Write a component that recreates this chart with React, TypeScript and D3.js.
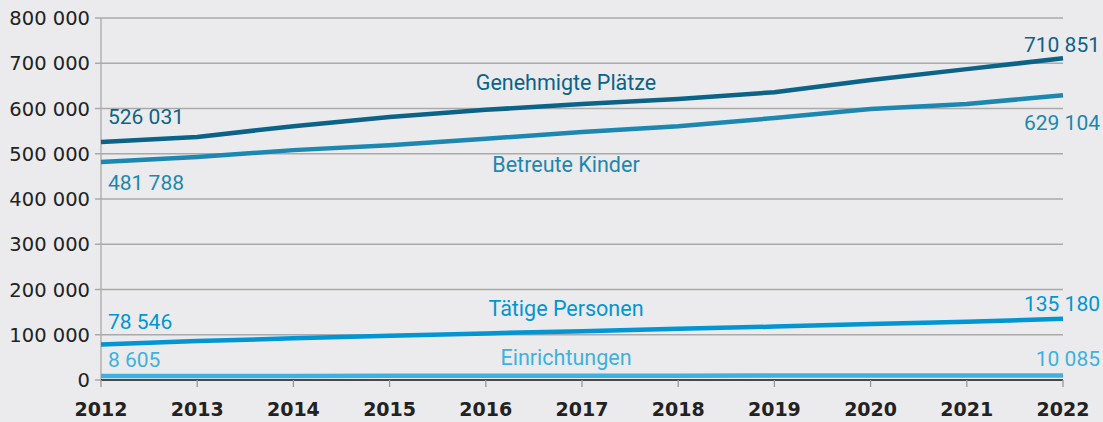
import React from "react";
import * as d3 from "d3";

const years = [2012, 2013, 2014, 2015, 2016, 2017, 2018, 2019, 2020, 2021, 2022];
const plaetze = [526031, 537000, 561000, 581000, 597000, 610000, 621000, 636000, 663000, 687000, 710851];
const kinder = [481788, 493000, 508000, 519000, 533000, 548000, 561000, 579000, 599000, 610000, 629104];
const personen = [78546, 86000, 92000, 98000, 103000, 108000, 113000, 118000, 124000, 129000, 135180];
const einrichtungen = [8605, 8800, 9000, 9150, 9300, 9450, 9550, 9700, 9850, 9950, 10085];
const yTicks = [0, 100000, 200000, 300000, 400000, 500000, 600000, 700000, 800000];

const W = 1103;
const H = 422;
const margin = { top: 18, right: 40, bottom: 42, left: 101 };

const fmt = (v: number) => d3.format(",")(v).replace(/,/g, " ");

const series = [
  { name: "Genehmigte Plätze", values: plaetze, color: "#0b6388", nameDy: 90, startDy: -18, endDy: -6 },
  { name: "Betreute Kinder", values: kinder, color: "#1c87b0", nameDy: 172, startDy: 28, endDy: 35 },
  { name: "Tätige Personen", values: personen, color: "#0095d3", nameDy: 316, startDy: -15, endDy: -8 },
  { name: "Einrichtungen", values: einrichtungen, color: "#3db1df", nameDy: 365, startDy: -9, endDy: -9 },
];

export default function App() {
  const x = d3.scaleLinear().domain([2012, 2022]).range([margin.left, W - margin.right]);
  const y = d3.scaleLinear().domain([0, 800000]).range([H - margin.bottom, margin.top]);
  const line = d3
    .line<number>()
    .x((_, i) => x(years[i]))
    .y((d) => y(d));

  const axisFont = "'DejaVu Sans', sans-serif";
  const labelFont = "Roboto, sans-serif";

  return (
    <svg width={W} height={H} style={{ position: "absolute", left: 0, top: 0, background: "#ebebed" }}>
      <rect width={W} height={H} fill="#ebebed" />
      {/* grid + y axis */}
      {yTicks.map((t) => (
        <g key={t}>
          <line x1={margin.left - 6} x2={W - margin.right} y1={y(t)} y2={y(t)} stroke="#aaaaaa" strokeWidth={1.3} />
          <text x={margin.left - 11} y={y(t) + 7} textAnchor="end" fontFamily={axisFont} fontSize={19.5} fill="#222">
            {fmt(t)}
          </text>
        </g>
      ))}
      <line x1={margin.left} x2={margin.left} y1={margin.top} y2={y(0)} stroke="#aaaaaa" strokeWidth={1.3} />
      {/* x axis */}
      <line x1={margin.left} x2={W - margin.right} y1={y(0)} y2={y(0)} stroke="#222" strokeWidth={1.5} />
      {years.map((yr) => (
        <g key={yr}>
          <line x1={x(yr)} x2={x(yr)} y1={y(0)} y2={y(0) + 7} stroke="#999" strokeWidth={1.3} />
          <text x={x(yr)} y={416} textAnchor="middle" fontFamily={axisFont} fontWeight="bold" fontSize={19} fill="#222">
            {yr}
          </text>
        </g>
      ))}
      {/* lines */}
      {series.map((s) => (
        <g key={s.name}>
          <path d={line(s.values) ?? ""} fill="none" stroke={s.color} strokeWidth={4.5} strokeLinejoin="round" />
          <text x={566} y={s.nameDy} textAnchor="middle" fontFamily={labelFont} fontSize={21.5} fill={s.color}>
            {s.name}
          </text>
          <text x={x(2012) + 7} y={y(s.values[0]) + s.startDy} fontFamily={labelFont} fontSize={21} fill={s.color}>
            {fmt(s.values[0])}
          </text>
          <text
            x={W - 3}
            y={y(s.values[s.values.length - 1]) + s.endDy}
            textAnchor="end"
            fontFamily={labelFont}
            fontSize={21}
            fill={s.color}
          >
            {fmt(s.values[s.values.length - 1])}
          </text>
        </g>
      ))}
    </svg>
  );
}
